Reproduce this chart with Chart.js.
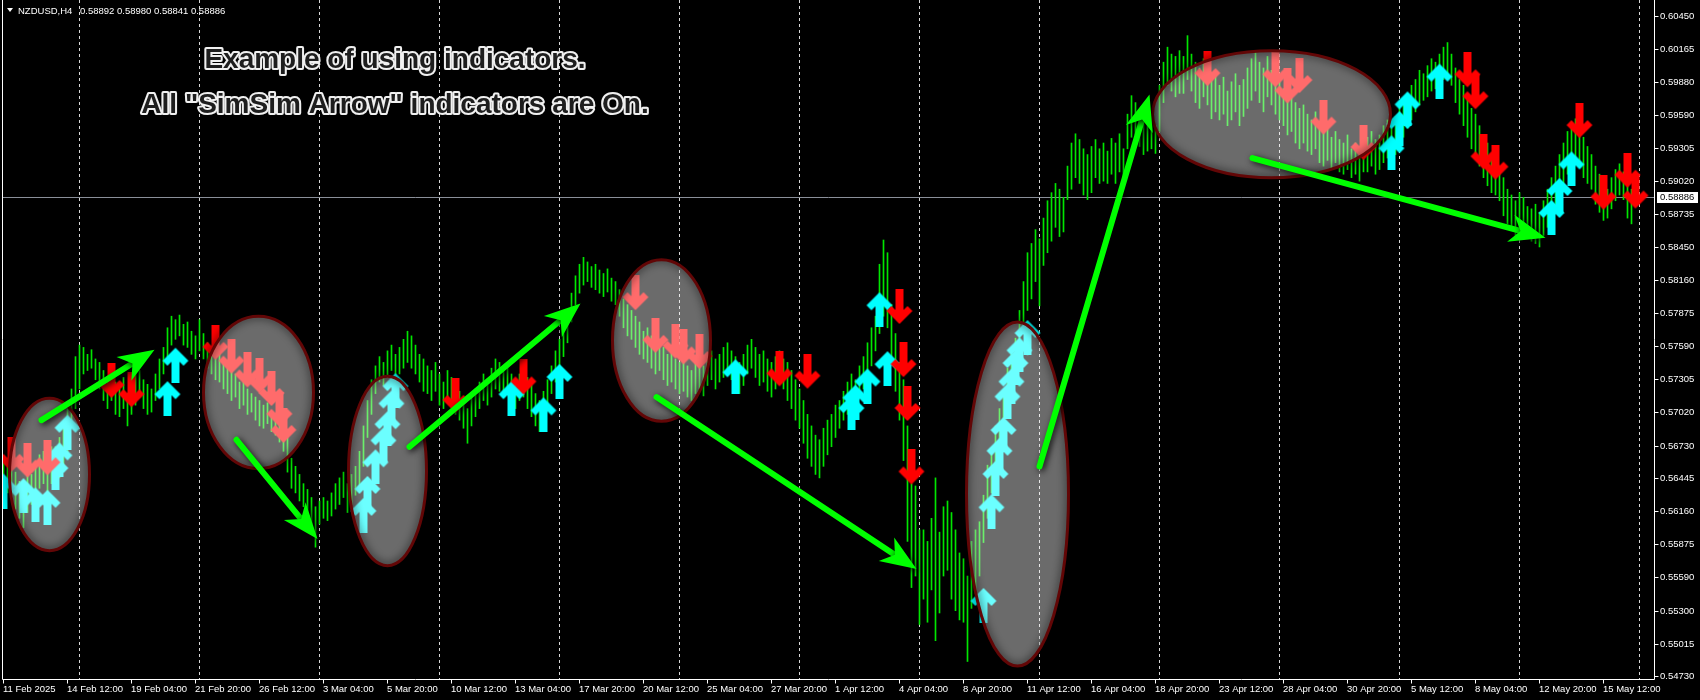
<!DOCTYPE html>
<html>
<head>
<meta charset="utf-8">
<script src="https://cdn.jsdelivr.net/npm/chart.js@4.4.0/dist/chart.umd.min.js"></script>
<style>
  html, body { margin: 0; padding: 0; background: #000; }
  #wrap { width: 1700px; height: 700px; }
</style>
</head>
<body>
<div id="wrap"><canvas id="chart"></canvas></div>
<script>
/* NZDUSD,H4 – bars with SimSim arrow marks, MT4 look */
; (function () {
    'use strict'

    // ── Data (prices in 1/10000, bar 0 = 11 Feb 2025 20:00, H4) ───────────────
    const barHigh = [
        5664, 5660, 5658, 5650, 5642, 5640, 5652, 5648, 5658, 5665,
        5668, 5662, 5672, 5672, 5680, 5690, 5705, 5722, 5750, 5760,
        5758, 5752, 5756, 5748, 5745, 5738, 5730, 5735, 5728, 5722,
        5732, 5718, 5725, 5735, 5738, 5730, 5726, 5722, 5735, 5748,
        5758, 5775, 5785, 5782, 5786, 5778, 5780, 5772, 5768, 5782,
        5770, 5762, 5758, 5752, 5755, 5745, 5740, 5738, 5735, 5728,
        5730, 5722, 5718, 5715, 5712, 5708, 5710, 5702, 5700, 5698,
        5692, 5680, 5662, 5655, 5648, 5640, 5635, 5628, 5620, 5625,
        5628, 5625, 5632, 5640, 5645, 5650, 5640, 5648, 5655, 5668,
        5690, 5712, 5730, 5742, 5750, 5745, 5755, 5760, 5752, 5758,
        5765, 5772, 5768, 5760, 5752, 5748, 5742, 5738, 5745, 5735,
        5728, 5738, 5732, 5725, 5720, 5712, 5705, 5715, 5722, 5728,
        5735, 5730, 5740, 5748, 5745, 5738, 5742, 5735, 5728, 5735,
        5740, 5732, 5725, 5718, 5712, 5720, 5730, 5742, 5755, 5765,
        5775, 5790, 5805, 5820, 5830, 5836, 5832, 5828, 5830, 5825,
        5822, 5826, 5818, 5815, 5808, 5800, 5795, 5790, 5785, 5780,
        5772, 5775, 5768, 5762, 5765, 5758, 5752, 5755, 5748, 5745,
        5750, 5742, 5738, 5745, 5748, 5742, 5750, 5755, 5748, 5752,
        5758, 5762, 5755, 5750, 5745, 5752, 5760, 5765, 5758, 5752,
        5755, 5748, 5745, 5750, 5755, 5748, 5745, 5738, 5730, 5722,
        5712, 5700, 5690, 5682, 5678, 5688, 5695, 5700, 5708, 5712,
        5720, 5728, 5735, 5730, 5742, 5750, 5762, 5775, 5785, 5830,
        5851, 5840, 5795, 5770, 5745, 5730, 5690, 5640, 5638, 5600,
        5600, 5590, 5610, 5645, 5598, 5620, 5625, 5615, 5600, 5580,
        5575, 5560, 5590, 5600, 5607, 5630, 5656, 5670, 5690, 5705,
        5720, 5740, 5755, 5766, 5790, 5815, 5840, 5848, 5860, 5852,
        5870, 5885, 5892, 5900, 5895, 5888, 5915, 5935, 5943, 5938,
        5930, 5925, 5932, 5938, 5930, 5935, 5928, 5939, 5935, 5943,
        5930, 5960, 5976, 5970, 5960, 5955, 5952, 5958, 5950, 5985,
        6005, 6018, 6012, 6010, 6015, 6010, 6028, 6012, 6005, 6000,
        6008, 6002, 5990, 5995, 5985, 5992, 5980, 5988, 5995, 5985,
        5990, 6000, 6008, 6015, 6005, 6000, 6010, 5998, 5995, 5988,
        5982, 5975, 5978, 5970, 5965, 5968, 5960, 5955, 5962, 5950,
        5945, 5952, 5940, 5945, 5938, 5935, 5942, 5930, 5935, 5928,
        5935, 5940, 5945, 5938, 5942, 5950, 5955, 5948, 5958, 5965,
        5972, 5978, 5985, 5990, 5998, 5995, 6002, 6008, 6005, 6012,
        6018, 6022, 6012, 6000, 5990, 5985, 5975, 5965, 5960, 5950,
        5940, 5935, 5925, 5920, 5915, 5905, 5895, 5890, 5885, 5892,
        5888, 5880, 5878, 5882, 5875, 5885, 5895, 5905, 5915, 5925,
        5935, 5945, 5952, 5956, 5948, 5940, 5932, 5925, 5915, 5908,
        5900, 5895, 5905, 5912, 5917, 5910, 5900, 5895, 5898
    ]
    const barLow = [
        5640, 5632, 5628, 5618, 5610, 5602, 5615, 5622, 5630, 5636,
        5640, 5630, 5640, 5640, 5645, 5652, 5665, 5690, 5705, 5722,
        5735, 5738, 5740, 5730, 5722, 5712, 5705, 5712, 5700, 5698,
        5705, 5690, 5700, 5708, 5715, 5705, 5700, 5702, 5712, 5722,
        5735, 5750, 5760, 5765, 5768, 5760, 5758, 5752, 5748, 5755,
        5748, 5740, 5735, 5730, 5728, 5722, 5718, 5712, 5715, 5705,
        5708, 5700, 5702, 5695, 5690, 5688, 5692, 5685, 5682, 5676,
        5668, 5650, 5636, 5632, 5625, 5620, 5615, 5605, 5585, 5605,
        5610, 5608, 5612, 5618, 5622, 5628, 5615, 5622, 5630, 5638,
        5655, 5680, 5700, 5718, 5728, 5725, 5732, 5738, 5730, 5735,
        5740, 5745, 5740, 5735, 5728, 5720, 5718, 5712, 5720, 5708,
        5705, 5712, 5706, 5700, 5695, 5688, 5675, 5690, 5698, 5705,
        5712, 5708, 5715, 5722, 5720, 5715, 5718, 5710, 5705, 5712,
        5715, 5705, 5698, 5690, 5685, 5692, 5705, 5718, 5728, 5740,
        5750, 5762, 5780, 5795, 5805, 5812, 5815, 5810, 5808, 5805,
        5802, 5806, 5798, 5795, 5785, 5775, 5768, 5765, 5758, 5752,
        5748, 5745, 5740, 5735, 5738, 5730, 5725, 5728, 5722, 5718,
        5720, 5715, 5712, 5718, 5722, 5716, 5725, 5730, 5722, 5728,
        5732, 5735, 5730, 5722, 5718, 5725, 5735, 5740, 5732, 5725,
        5728, 5720, 5715, 5722, 5728, 5722, 5712, 5705, 5695, 5688,
        5675, 5662, 5655, 5648, 5645, 5655, 5665, 5672, 5680, 5688,
        5695, 5700, 5708, 5705, 5715, 5722, 5730, 5742, 5755, 5770,
        5785, 5775, 5745, 5720, 5695, 5660, 5590, 5550, 5560, 5518,
        5540, 5520, 5548, 5504, 5528, 5560, 5565, 5540, 5530, 5522,
        5520, 5486, 5532, 5545, 5560, 5589, 5610, 5632, 5650, 5668,
        5688, 5700, 5715, 5730, 5760, 5775, 5790, 5800, 5815, 5794,
        5829, 5840, 5850, 5862, 5854, 5858, 5886, 5895, 5905, 5900,
        5890, 5886, 5892, 5905, 5900, 5902, 5900, 5908, 5900, 5910,
        5903, 5930, 5940, 5942, 5932, 5925, 5928, 5930, 5926, 5945,
        5970, 5985, 5980, 5975, 5978, 5978, 5990, 5980, 5970, 5965,
        5975, 5968, 5956, 5962, 5955, 5960, 5950, 5955, 5962, 5950,
        5958, 5965, 5972, 5980, 5970, 5962, 5975, 5968, 5960, 5955,
        5950, 5942, 5945, 5935, 5930, 5935, 5928, 5925, 5930, 5918,
        5915, 5920, 5912, 5918, 5910, 5908, 5912, 5905, 5908, 5902,
        5910, 5910, 5915, 5908, 5912, 5918, 5922, 5915, 5925, 5932,
        5940, 5948, 5955, 5962, 5968, 5972, 5975, 5980, 5982, 5985,
        5990, 5995, 5985, 5970, 5960, 5950, 5940, 5930, 5925, 5915,
        5905, 5898, 5892, 5890, 5885, 5872, 5865, 5860, 5855, 5862,
        5858, 5852, 5850, 5848, 5845, 5855, 5862, 5870, 5880, 5890,
        5900, 5908, 5915, 5920, 5915, 5905, 5900, 5895, 5882, 5875,
        5868, 5870, 5878, 5885, 5890, 5886, 5870, 5865, 5884
    ]

    // last bar O H L C, shown in the header and on the bid line
    const lastOHLC = [0.58892, 0.58980, 0.58841, 0.58886]

    // x-axis labels, one every 16 bars
    const xTickLabels = [
        '11 Feb 2025', '14 Feb 12:00', '19 Feb 04:00', '21 Feb 20:00', '26 Feb 12:00',
        '3 Mar 04:00', '5 Mar 20:00', '10 Mar 12:00', '13 Mar 04:00', '17 Mar 20:00',
        '20 Mar 12:00', '25 Mar 04:00', '27 Mar 20:00', '1 Apr 12:00', '4 Apr 04:00',
        '8 Apr 20:00', '11 Apr 12:00', '16 Apr 04:00', '18 Apr 20:00', '23 Apr 12:00',
        '28 Apr 04:00', '30 Apr 20:00', '5 May 12:00', '8 May 04:00', '12 May 20:00',
        '15 May 12:00'
    ]
    const yTickValues = [
        0.60450, 0.60165, 0.59880, 0.59590, 0.59305, 0.59020, 0.58735, 0.58450,
        0.58160, 0.57875, 0.57590, 0.57305, 0.57020, 0.56730, 0.56445, 0.56160,
        0.55875, 0.55590, 0.55300, 0.55015, 0.54730
    ]

    // SimSim arrows: [bar, price/10000]
    const sellArrows = [
        [2, 5665], [6, 5660], [11, 5662], [27, 5729], [32, 5721],
        [53, 5762], [57, 5750], [61, 5738], [64, 5733], [67, 5722], [69, 5704], [70, 5690],
        [113, 5716], [130, 5732],
        [158, 5805], [163, 5768], [168, 5763], [170, 5758], [174, 5754],
        [194, 5739], [201, 5737],
        [224, 5793], [225, 5747], [226, 5709], [227, 5654],
        [301, 5999], [318, 5998], [321, 5984], [324, 5993], [330, 5957], [340, 5935],
        [366, 5998], [368, 5979], [370, 5927], [373, 5918],
        [394, 5954], [400, 5892], [406, 5911], [408, 5893]
    ]
    const buyArrows = [
        [0, 5634], [5, 5630], [8, 5622], [11, 5620], [13, 5650], [14, 5661], [16, 5685],
        [41, 5714], [43, 5743],
        [90, 5613], [91, 5632], [93, 5655], [95, 5674], [96, 5688], [97, 5706], [98, 5721],
        [127, 5714], [135, 5700], [139, 5729],
        [183, 5733],
        [212, 5702], [213, 5711], [216, 5725], [219, 5791], [221, 5740],
        [245, 5535], [247, 5616], [248, 5645], [249, 5665], [250, 5683], [251, 5712],
        [252, 5725], [253, 5741], [254, 5752], [256, 5767],
        [347, 5927], [349, 5948], [351, 5965], [359, 5989],
        [387, 5871], [389, 5890], [392, 5913]
    ]

    // highlight ovals: [centre bar, centre price, half-width in bars, half-height in price]
    const ovals = [
        [11.5, 5648, 10, 66], [63.75, 5719, 13.75, 66], [96, 5651, 9.75, 82],
        [164.5, 5764, 12.25, 70], [253.5, 5631, 12.75, 149], [317, 5960, 29.75, 55]
    ]
    // trend arrows: [from bar, from price, to bar, to price]
    const trendArrows = [
        [9.5, 5695, 37.75, 5756], [58.25, 5678, 78.5, 5592], [101.5, 5672, 144.25, 5796],
        [163.25, 5715, 228.25, 5566], [259, 5655, 286.5, 5977], [312.25, 5922, 385.5, 5853]
    ]
    const noteLines = ['Example of using indicators.', 'All "SimSim Arrow" indicators are On.']

    // ── Scale set-up ───────────────────────────────────────────────────────────
    const BARS_PER_LABEL = 16
    const WEEK_BARS = 30, FIRST_MONDAY = 19
    const X_MIN = -0.125, X_MAX = X_MIN + 1651 / 4
    const Y_MIN = 0.547083, Y_MAX = 0.605886
    const FONT = '"Liberation Sans", Arial, sans-serif'
    const AXIS_FONT = '9.5px ' + FONT

    function makeArrow(color, up) {
        const c = document.createElement('canvas')
        c.width = 28; c.height = 36
        const g = c.getContext('2d')
        if (!up) { g.translate(0, 36); g.scale(1, -1) }
        g.fillStyle = color; g.strokeStyle = color
        g.fillRect(10, 8, 8, 28)
        g.lineWidth = 7; g.lineJoin = 'miter'; g.lineCap = 'butt'
        g.beginPath(); g.moveTo(3.5, 16.5); g.lineTo(14, 6); g.lineTo(24.5, 16.5); g.stroke()
        return c
    }
    const redArrow = makeArrow('#ff0000', false)
    const cyanArrow = makeArrow('#00ffff', true)

    const overlay = {
        id: 'overlay',
        beforeDatasetsDraw(chart) {
            const { ctx, chartArea: a, scales: { x, y } } = chart
            ctx.save()
            // weekly grid
            ctx.strokeStyle = '#d8d8d8'; ctx.lineWidth = 1; ctx.setLineDash([3, 3])
            for (let b = FIRST_MONDAY; b <= X_MAX; b += WEEK_BARS) {
                const px = Math.round(x.getPixelForValue(b) - 0.5) + 0.5
                ctx.beginPath(); ctx.moveTo(px, a.top); ctx.lineTo(px, a.bottom); ctx.stroke()
            }
            ctx.setLineDash([])
            // bid line
            const py = Math.round(y.getPixelForValue(lastOHLC[3])) + 0.5
            ctx.strokeStyle = '#8a8f99'
            ctx.beginPath(); ctx.moveTo(a.left, py); ctx.lineTo(a.right, py); ctx.stroke()
            ctx.restore()
        },
        afterDatasetsDraw(chart) {
            const { ctx, chartArea: a, scales: { x, y } } = chart
            ctx.save()
            ctx.beginPath(); ctx.rect(a.left, a.top, a.right - a.left, a.bottom - a.top); ctx.clip()

            // ovals
            ovals.forEach(([cb, cp, rb, rp]) => {
                const cx = x.getPixelForValue(cb), cy = y.getPixelForValue(cp / 1e4)
                const rx = x.getPixelForValue(cb + rb) - cx
                const ry = cy - y.getPixelForValue((cp + rp) / 1e4)
                ctx.beginPath(); ctx.ellipse(cx, cy, rx, ry, 0, 0, Math.PI * 2)
                ctx.fillStyle = 'rgba(255,255,255,0.42)'; ctx.fill()
                ctx.save()
                ctx.shadowColor = 'rgba(0,0,0,0.9)'; ctx.shadowBlur = 8
                ctx.lineWidth = 3; ctx.strokeStyle = '#620606'; ctx.stroke()
                ctx.restore()
            })

            // trend arrows
            trendArrows.forEach(([b0, p0, b1, p1]) => {
                const x0 = x.getPixelForValue(b0), y0 = y.getPixelForValue(p0 / 1e4)
                const x1 = x.getPixelForValue(b1), y1 = y.getPixelForValue(p1 / 1e4)
                const ang = Math.atan2(y1 - y0, x1 - x0)
                const head = 36, half = 14
                ctx.save()
                ctx.shadowColor = 'rgba(0,0,0,0.85)'; ctx.shadowBlur = 6
                ctx.shadowOffsetX = 2; ctx.shadowOffsetY = 2
                ctx.strokeStyle = '#00ff00'; ctx.fillStyle = '#00ff00'
                ctx.lineWidth = 6; ctx.lineCap = 'round'
                ctx.beginPath(); ctx.moveTo(x0, y0)
                ctx.lineTo(x1 - Math.cos(ang) * head * 0.7, y1 - Math.sin(ang) * head * 0.7); ctx.stroke()
                ctx.translate(x1, y1); ctx.rotate(ang)
                ctx.beginPath()
                ctx.moveTo(0, 0); ctx.lineTo(-head, -half); ctx.lineTo(-head * 0.72, 0); ctx.lineTo(-head, half)
                ctx.closePath(); ctx.fill()
                ctx.restore()
            })

            // note text
            ctx.font = 'bold 28px ' + FONT
            ctx.textAlign = 'center'; ctx.textBaseline = 'alphabetic'
            ctx.lineJoin = 'round'
            noteLines.forEach((t, i) => {
                const ty = 68 + i * 45
                ctx.lineWidth = 4; ctx.strokeStyle = '#f0f0f0'; ctx.strokeText(t, 395, ty)
                ctx.fillStyle = '#1e1e1e'; ctx.fillText(t, 395, ty)
            })
            ctx.restore()
        },
        afterDraw(chart) {
            const { ctx, chartArea: a, scales: { x, y } } = chart
            ctx.save()
            ctx.strokeStyle = '#ffffff'; ctx.fillStyle = '#ffffff'; ctx.lineWidth = 1
            ctx.font = AXIS_FONT

            // frame: left border, bottom and right axis lines
            const bx = a.bottom + 0.5, rx = a.right + 0.5
            ctx.beginPath()
            ctx.moveTo(a.left - 0.5, 0); ctx.lineTo(a.left - 0.5, bx)
            ctx.lineTo(rx, bx); ctx.lineTo(rx, 0)
            ctx.stroke()

            // time axis
            ctx.textAlign = 'left'; ctx.textBaseline = 'top'
            xTickLabels.forEach((t, i) => {
                const px = Math.round(x.getPixelForValue(i * BARS_PER_LABEL) - 0.5) + 0.5
                ctx.beginPath(); ctx.moveTo(px, bx); ctx.lineTo(px, bx + 4); ctx.stroke()
                ctx.fillText(t, px - 0.5, a.bottom + 6)
            })

            // price axis
            ctx.textBaseline = 'middle'
            yTickValues.forEach(v => {
                const py = Math.round(y.getPixelForValue(v)) + 0.5
                ctx.beginPath(); ctx.moveTo(rx, py); ctx.lineTo(rx + 4, py); ctx.stroke()
                ctx.fillText(v.toFixed(5), a.right + 6, py)
            })

            // header
            ctx.beginPath(); ctx.moveTo(7, 8); ctx.lineTo(13, 8); ctx.lineTo(10, 12); ctx.closePath(); ctx.fill()
            ctx.fillText('NZDUSD,H4', 18, 11)
            ctx.fillText(lastOHLC.map(v => v.toFixed(5)).join(' '), 80, 11)

            // bid label
            const py = Math.round(y.getPixelForValue(lastOHLC[3]))
            ctx.fillRect(a.right + 3, py - 5, 41, 11)
            ctx.fillStyle = '#000000'
            ctx.fillText(lastOHLC[3].toFixed(5), a.right + 6, py + 0.5)
            ctx.restore()
        }
    }

    new Chart(document.getElementById('chart'), {
        type: 'bar',
        data: {
            datasets: [
                {
                    type: 'scatter', order: 0,
                    data: sellArrows.map(([b, p]) => ({ x: b, y: p / 1e4 })),
                    pointStyle: redArrow, pointRadius: 14
                },
                {
                    type: 'scatter', order: 1,
                    data: buyArrows.map(([b, p]) => ({ x: b, y: p / 1e4 })),
                    pointStyle: cyanArrow, pointRadius: 14
                },
                {
                    type: 'bar', order: 2,
                    data: barHigh.map((h, i) => ({ x: i, y: [barLow[i] / 1e4, h / 1e4] })),
                    backgroundColor: '#00e600',
                    borderWidth: 0,
                    barThickness: 1,
                    grouped: false
                }
            ]
        },
        options: {
            responsive: true,
            maintainAspectRatio: false,
            animation: false,
            events: [],
            layout: { autoPadding: false, padding: { left: 3, top: 0, right: 46, bottom: 21 } },
            plugins: { legend: { display: false }, tooltip: { enabled: false } },
            scales: {
                x: { type: 'linear', display: false, offset: false, min: X_MIN, max: X_MAX },
                y: { type: 'linear', display: false, min: Y_MIN, max: Y_MAX }
            }
        },
        plugins: [overlay]
    })
})()
</script>
</body>
</html>
